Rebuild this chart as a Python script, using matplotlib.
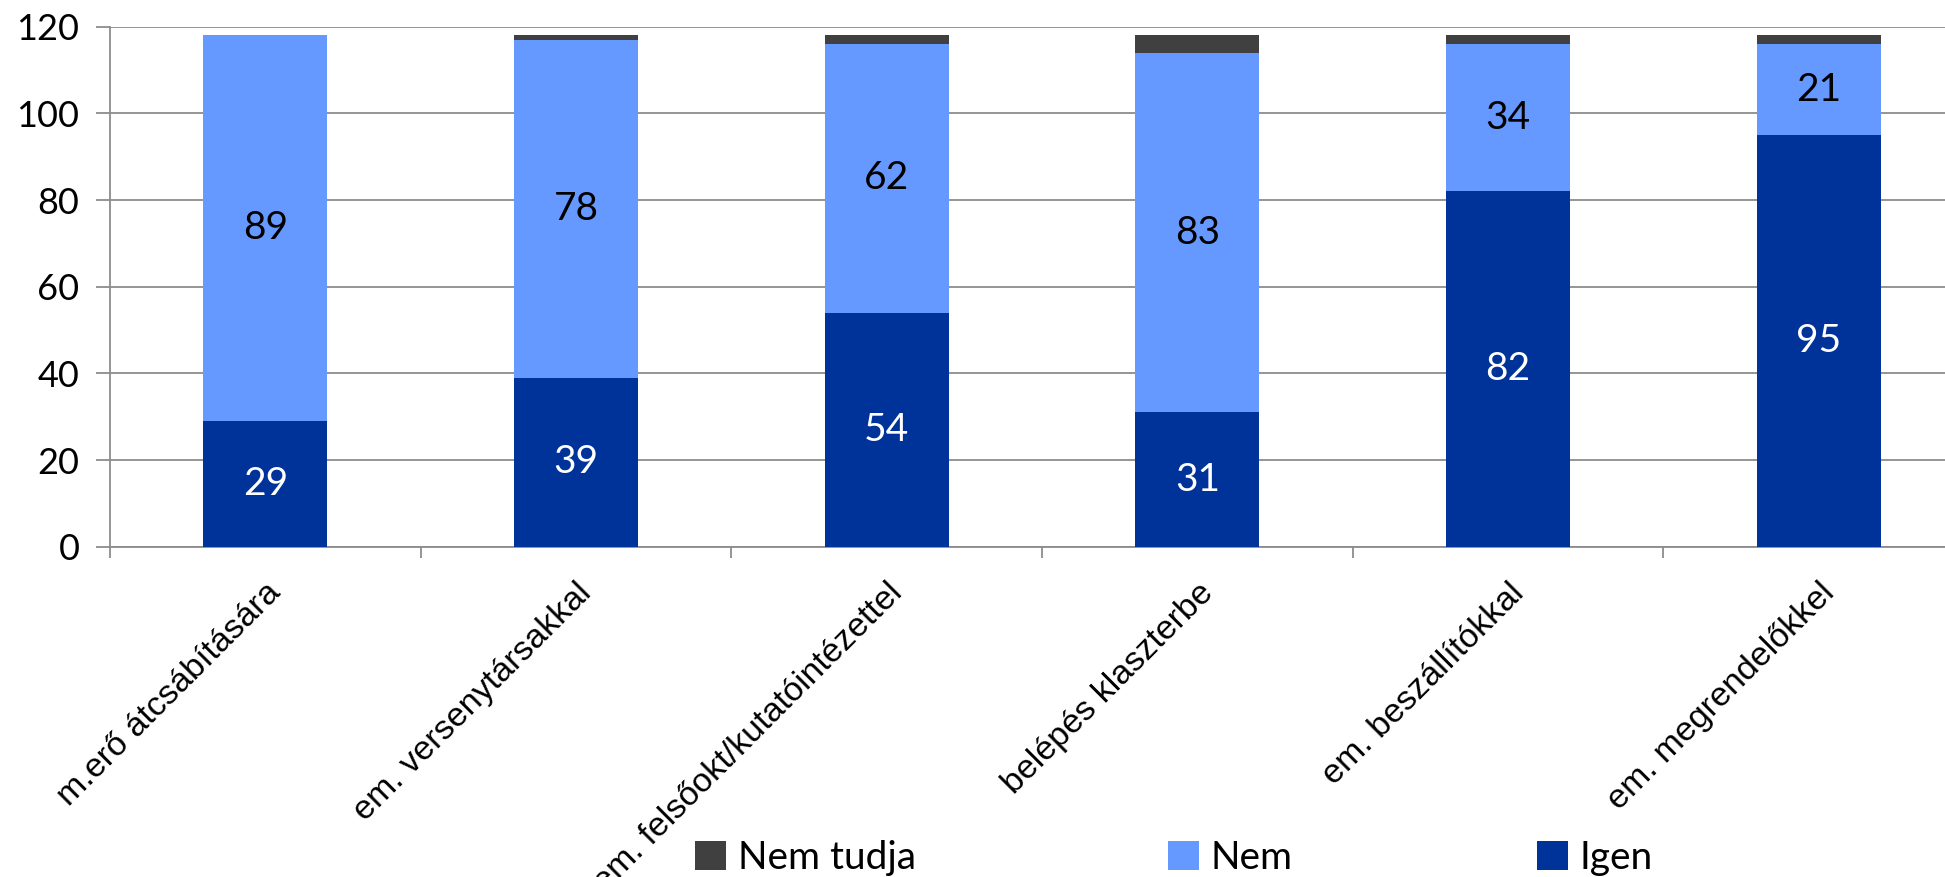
import matplotlib
matplotlib.use("Agg")
import matplotlib.pyplot as plt
import numpy as np

categories = ["m.erő átcsábítására", "em. versenytársakkal", "em. felsőokt/kutatóintézettel",
              "belépés klaszterbe", "em. beszállítókkal", "em. megrendelőkkel"]
igen = [29, 39, 54, 31, 82, 95]
nem = [89, 78, 62, 83, 34, 21]
nem_tudja = [0, 1, 2, 4, 2, 2]
series_names = ["Igen", "Nem", "Nem tudja"]
y_ticks = [0, 20, 40, 60, 80, 100, 120]

c_igen = "#003399"
c_nem = "#6699FF"
c_nt = "#404040"
grid_c = "#8C8C8C"

W, H = 1945, 877
fig = plt.figure(figsize=(W / 100, H / 100), dpi=100)
ax = fig.add_axes([110 / W, 1 - 546.7 / H, 1864 / W, 520 / H])

x = np.arange(len(categories))
igen_a = np.array(igen)
nem_a = np.array(nem)
nt_a = np.array(nem_tudja)
bw = 0.4
b1 = ax.bar(x, igen_a, bw, color=c_igen, label=series_names[0], zorder=3)
b2 = ax.bar(x, nem_a, bw, bottom=igen_a, color=c_nem, label=series_names[1], zorder=3)
b3 = ax.bar(x, nt_a, bw, bottom=igen_a + nem_a, color=c_nt, label=series_names[2], zorder=3)

num_font = "Lato"
for i in range(len(categories)):
    ax.text(x[i], igen_a[i] / 2, str(igen[i]), ha="center", va="center",
            color="white", fontsize=28, family=num_font, zorder=4)
    ax.text(x[i], igen_a[i] + nem_a[i] / 2, str(nem[i]), ha="center", va="center",
            color="black", fontsize=28, family=num_font, zorder=4)

ax.set_xlim(-0.5, len(categories) - 0.5)
ax.set_ylim(0, 120)
ax.set_yticks(y_ticks)
ax.set_yticklabels([str(v) for v in y_ticks], family=num_font, fontsize=26)
ax.yaxis.grid(True, color=grid_c, linewidth=1.3, zorder=0)
ax.set_axisbelow(True)

ax.set_xticks(x)
ax.set_xticklabels(categories, rotation=45, ha="right", rotation_mode="anchor",
                   family="Liberation Sans", fontsize=24.5)
ax.set_xticks(np.arange(-0.5, len(categories), 1.0), minor=True)
ax.tick_params(axis="x", which="major", length=0, pad=22)
ax.tick_params(axis="x", which="minor", length=8, width=1.3, color=grid_c, direction="out")
ax.tick_params(axis="y", length=10, width=1.3, color=grid_c, direction="out", pad=12)

for s in ["top", "right"]:
    ax.spines[s].set_visible(False)
for s in ["left", "bottom"]:
    ax.spines[s].set_color(grid_c)
    ax.spines[s].set_linewidth(1.3)

handles = [b3, b2, b1]
labels = [series_names[2], series_names[1], series_names[0]]
xs = [695, 1168, 1537]
for h, l, xp in zip(handles, labels, xs):
    fig.legend([h], [l], loc="center left", bbox_to_anchor=(xp / W, 1 - 858 / H),
               frameon=False, borderpad=0, borderaxespad=0,
               handlelength=0.8, handleheight=0.8, handletextpad=0.3,
               prop={"family": num_font, "size": 28})

fig.savefig("out.png", dpi=100)
